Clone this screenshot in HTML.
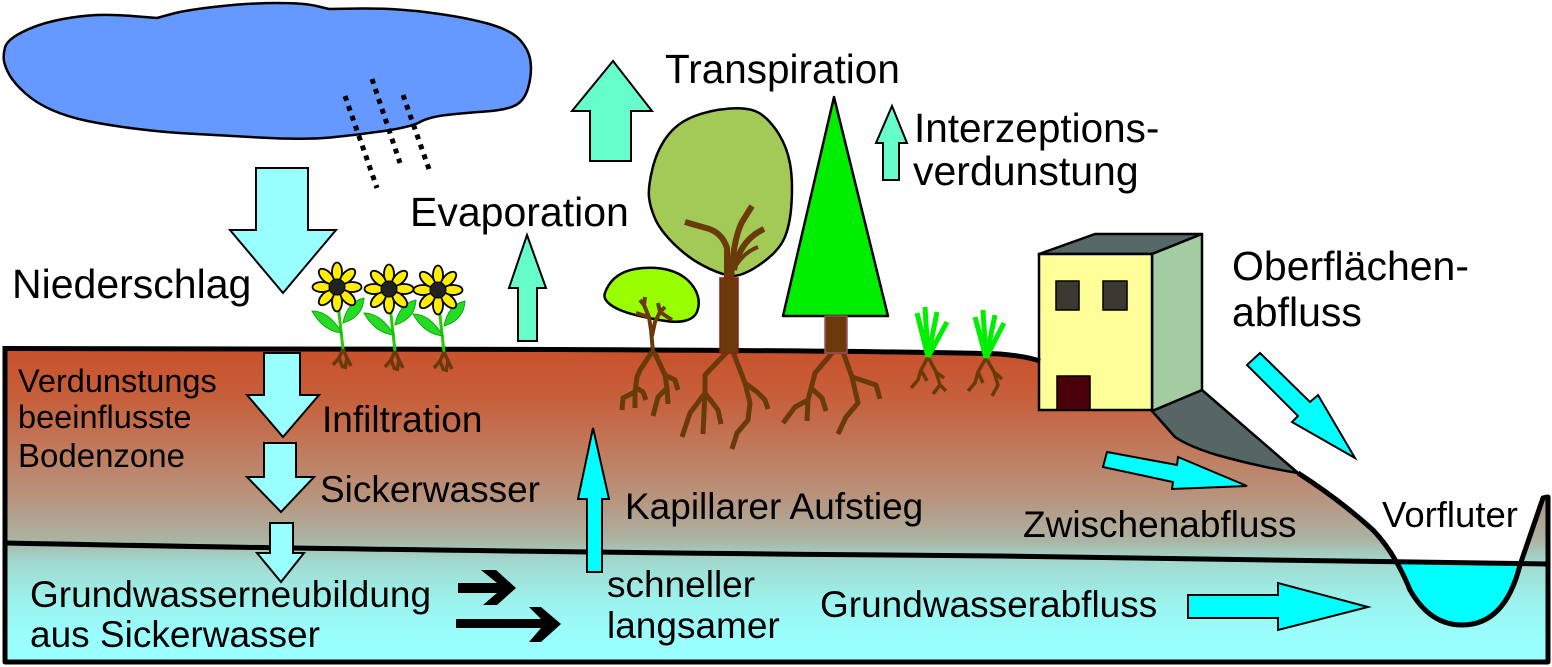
<!DOCTYPE html>
<html>
<head>
<meta charset="utf-8">
<style>
  html,body{margin:0;padding:0;background:#fff;}
  svg{display:block;}
  text{font-family:"Liberation Sans", Arial, sans-serif; fill:#000;}
</style>
</head>
<body>
<svg width="1552" height="667" viewBox="0 0 1552 667" xmlns="http://www.w3.org/2000/svg">
  <defs>
    <linearGradient id="soil" gradientUnits="userSpaceOnUse" x1="0" y1="350" x2="0" y2="662">
      <stop offset="0" stop-color="#c9512b"/>
      <stop offset="0.16" stop-color="#c6603c"/>
      <stop offset="0.32" stop-color="#c07a5c"/>
      <stop offset="0.48" stop-color="#b8957f"/>
      <stop offset="0.61" stop-color="#aab4a2"/>
      <stop offset="0.67" stop-color="#a2d6cc"/>
      <stop offset="0.80" stop-color="#9cf2ec"/>
      <stop offset="0.93" stop-color="#99ffff"/>
      <stop offset="1" stop-color="#99ffff"/>
    </linearGradient>
    <clipPath id="riverclip"><rect x="1350" y="562" width="200" height="100"/></clipPath>
    <g id="flower">
      <path d="M0,8 Q3,35 6,62" stroke="#22cc00" stroke-width="3" fill="none"/>
      <path d="M5,46 Q-8,24 -25,24 Q-14,44 5,46Z" fill="#22dd22" stroke="#18a018" stroke-width="1"/>
      <path d="M6,36 Q10,15 27,11 Q26,30 6,36Z" fill="#22dd22" stroke="#18a018" stroke-width="1"/>
      <g fill="#ffee00" stroke="#000" stroke-width="1.8">
        <ellipse cx="0" cy="-15" rx="5" ry="9.5"/>
        <ellipse cx="0" cy="-15" rx="5" ry="9.5" transform="rotate(45)"/>
        <ellipse cx="0" cy="-15" rx="5" ry="9.5" transform="rotate(90)"/>
        <ellipse cx="0" cy="-15" rx="5" ry="9.5" transform="rotate(135)"/>
        <ellipse cx="0" cy="-15" rx="5" ry="9.5" transform="rotate(180)"/>
        <ellipse cx="0" cy="-15" rx="5" ry="9.5" transform="rotate(225)"/>
        <ellipse cx="0" cy="-15" rx="5" ry="9.5" transform="rotate(270)"/>
        <ellipse cx="0" cy="-15" rx="5" ry="9.5" transform="rotate(315)"/>
      </g>
      <circle cx="0" cy="0" r="8" fill="#222" stroke="#000" stroke-width="1"/>
      <path d="M6,62 L2,71 L-4,78 M2,71 L6,81 M6,62 L10,71 L14,79 M10,71 L8,82" stroke="#6b3a0a" stroke-width="3.5" fill="none"/>
    </g>
  </defs>

  <!-- Cloud -->
  <path d="M4,61 Q3,55 5,47.5 Q7,40 21.5,32.5 Q36,25 53.5,21 Q71,17 89,15.5 Q107,14 132,16 L157,18 L171.5,14 Q186,10 218,6.5 Q250,3 277,3 Q304,3 316.5,6 L329,9 L361,8.5 Q393,8 428.5,12.5 Q464,17 487.5,23.5 Q511,30 520,40 Q529,50 530.5,61.5 Q532,73 528.5,86.5 Q525,100 516,105 Q507,110 485.5,111.5 Q464,113 446.5,115 Q429,117 420,122 Q411,127 384,131 Q357,135 330.5,137.5 Q304,140 259,137.5 Q214,135 187.5,133.5 Q161,132 134,128.5 Q107,125 87.5,121 Q68,117 52,110 Q36,103 25,93 Q14,83 9.5,75 Q5,67 4,61 Z" fill="#6699ff" stroke="#000" stroke-width="2.5"/>
  <!-- Rain -->
  <g stroke="#000" stroke-width="5" stroke-dasharray="5 5.5" fill="none">
    <line x1="345" y1="96" x2="377" y2="188"/>
    <line x1="372" y1="79" x2="400" y2="163"/>
    <line x1="403" y1="95" x2="430" y2="172"/>
  </g>

  <!-- Ground fill -->
  <path d="M5,348.5 L560,349.5 Q900,351 1000,354 Q1025,356 1040,361 L1202,361 L1202,390 L1298,473 Q1340,500 1373,530 Q1395,553 1410,590 Q1430,625 1462,625 Q1505,625 1520,565 L1543,498 L1548,497 L1548,662 L5,662 Z" fill="url(#soil)"/>
  <!-- River water -->
  <path clip-path="url(#riverclip)" d="M1373,530 Q1395,553 1410,590 Q1430,625 1462,625 Q1505,625 1520,565 L1543,498 Z" fill="#00ffff"/>

  <!-- Gray slope -->
  <path d="M1152,411 L1202,390 L1298,473 Q1260,467 1217,455 Q1190,447 1175,437 Z" fill="#556664" stroke="#000" stroke-width="2.5" stroke-linejoin="round"/>
  <!-- House -->
  <polygon points="1039,254 1095,234 1202,234 1152,254" fill="#566866" stroke="#000" stroke-width="2.5" stroke-linejoin="round"/>
  <polygon points="1152,254 1202,234 1202,390 1152,411" fill="#a3cca3" stroke="#000" stroke-width="2.5" stroke-linejoin="round"/>
  <rect x="1039" y="254" width="113" height="156" fill="#ffff99" stroke="#000" stroke-width="2.5"/>
  <rect x="1056" y="281" width="23" height="29" fill="#3a3830" stroke="#000" stroke-width="1.5"/>
  <rect x="1103" y="281" width="24" height="29" fill="#3a3830" stroke="#000" stroke-width="1.5"/>
  <rect x="1057" y="376" width="33" height="34" fill="#4a0008" stroke="#000" stroke-width="1.5"/>

  <!-- Groundwater line -->
  <path d="M5,543 Q400,551 1000,556 L1548,564" fill="none" stroke="#000" stroke-width="5"/>
  <!-- Ground outlines -->
  <path d="M5,348.5 L560,349.5 Q900,351 1000,354 Q1025,356 1040,361" fill="none" stroke="#000" stroke-width="5"/>
  <path d="M1298,473 Q1340,500 1373,530 Q1395,553 1410,590 Q1430,625 1462,625 Q1505,625 1520,565 L1543,498 L1548,497 L1548,662 L5,662 L5,346" fill="none" stroke="#000" stroke-width="5" stroke-linejoin="round"/>

  <!-- Roots -->
  <g stroke="#6b3a0a" stroke-width="5" fill="none" stroke-linejoin="round">
    <!-- shrub -->
    <path d="M652,352 L640,370 L637,377 L635,392 L623,398 L622,410 M635,387 L643,392 L646,400 M635,392 L635,408 M654,352 L657,358 L665,375 L667,388 L658,397 L653,416 M665,375 L675,380 L678,390 M667,388 L668,404"/>
    <!-- big tree -->
    <path d="M727,352 L705,375 L705,393 L690,413 L682,437 M705,393 L718,410 L721,424 M705,393 L703,434 M733,352 L745,383 L757,392 L765,400 L768,409 M745,383 L750,403 L748,420 L737,433 L732,449"/>
    <!-- conifer -->
    <path d="M833,352 L815,373 L808,400 L795,407 L783,423 M810,387 L822,398 L826,411 M808,400 L807,421 M843,352 L852,377 L876,385 L880,399 M852,377 L858,403 L846,417 L838,434"/>
  </g>
  <g stroke="#6b3a0a" stroke-width="3.5" fill="none" stroke-linejoin="round">
    <path d="M928,357 L921,370 L918,380 L911,388 M921,370 L927,381 M928,357 L936,372 L940,385 L933,394 M936,372 L944,378 M940,385 L946,391"/>
    <path d="M986,358 L978,372 L975,383 L968,391 M978,372 L983,383 M986,358 L994,372 L998,385 L992,396 M994,372 L1002,379"/>
  </g>

  <!-- Flowers -->
  <use href="#flower" x="337" y="287"/>
  <use href="#flower" x="389" y="289"/>
  <use href="#flower" x="438" y="290"/>

  <!-- Shrub -->
  <path d="M604.5,296.5 Q604,293 608.5,285.5 Q613,278 621.5,273.5 Q630,269 643.5,268 Q657,267 668.5,270 Q680,273 687.5,280 Q695,287 697.5,295 Q700,303 697.5,310.5 Q695,318 686,320.5 Q677,323 662.5,320.5 Q648,318 637.5,315.5 Q627,313 620,310 Q613,307 609,303.5 Q605,300 604.5,296.5 Z" fill="#99ff00" stroke="#000" stroke-width="2.5"/>
  <g stroke="#6b3a0a" stroke-width="4" fill="none" stroke-linejoin="round">
    <path d="M653,352 L651,330 L649,317 L644,305 L640,300 M649,317 L636,313 M644,305 L645,297 M652,336 L655,322 L660,312 L665,307 M660,312 L672,320 M660,312 L658,303"/>
  </g>

  <!-- Big tree -->
  <path d="M649,197 Q648,187 652.5,168.5 Q657,150 667,136.5 Q677,123 693.5,116.5 Q710,110 730,108.5 Q750,107 760,113.5 Q770,120 778.5,133.5 Q787,147 790,163.5 Q793,180 791.5,203.5 Q790,227 783.5,240 Q777,253 758.5,265.5 Q740,278 728.5,275.5 Q717,273 702,265 Q687,257 673.5,243.5 Q660,230 655,218.5 Q650,207 649,197 Z" fill="#a3c957" stroke="#000" stroke-width="2.5"/>
  <g stroke="#6b3a0a" stroke-width="6" fill="none" stroke-linecap="butt" stroke-linejoin="round">
    <path d="M727,282 L727,248 Q722,232 706,228 L685,222"/>
    <path d="M731,280 Q733,240 742,222 L752,206"/>
    <path d="M734,270 Q740,240 764,229"/>
    <path d="M737,264 Q745,252 758,247" stroke-width="4"/>
  </g>
  <rect x="720" y="278" width="18" height="75" fill="#6b3a0a" stroke="#8b2010" stroke-width="1.5"/>

  <!-- Conifer -->
  <polygon points="834,97 783,316 888,316" fill="#00ee00" stroke="#000" stroke-width="2.5" stroke-linejoin="round"/>
  <rect x="825" y="316" width="22" height="37" fill="#6b3a0a" stroke="#a05060" stroke-width="1.5"/>

  <!-- Grass -->
  <g stroke="#00ee00" stroke-width="5" fill="none" stroke-linecap="butt">
    <path d="M928,357 L917,313 M928,357 L925,307 M928,357 L937,312 M928,357 L947,322"/>
    <path d="M986,358 L975,317 M986,358 L983,310 M986,358 L995,315 M986,358 L1004,323"/>
  </g>

  <!-- Arrows -->
  <g stroke="#000" stroke-width="2" stroke-linejoin="miter">
    <polygon points="256,168 308,168 308,230 336,230 283,293 230,230 256,230" fill="#99ffff"/>
    <polygon points="527,235 546,288 537,288 537,341 518,341 518,288 509,288" fill="#66ffcc"/>
    <polygon points="613,61 652,111 631,111 631,161 590,161 590,111 572,111" fill="#66ffcc"/>
    <polygon points="892,106 907,143 899,143 899,180 883,180 883,143 876,143" fill="#66ffcc"/>
    <polygon points="264,353 300,353 300,395 319,395 283,437 247,395 264,395" fill="#99ffff"/>
    <polygon points="264,443 296,443 296,477 314,477 281,512 247,477 264,477" fill="#99ffff"/>
    <polygon points="270,523 293,523 293,553 304,553 281,582 257,553 270,553" fill="#99ffff"/>
    <polygon points="593,428 609,499 602,499 602,572 587,572 587,499 578,499" fill="#00ffff"/>
    <polygon points="1107,452 1177,465 1178,457 1247,486 1172,489 1173,482 1103,467" fill="#00ffff"/>
    <polygon points="1247,365 1260,353 1310,402 1318,395 1355,458 1292,422 1298,416" fill="#00ffff"/>
    <polygon points="1188,595 1278,595 1278,583 1368,607 1278,630 1278,618 1188,618" fill="#00ffff"/>
  </g>
  <!-- Black flow arrows -->
  <polygon points="458,583 497,583 481,570 496,570 516,588 497,605 483,605 497,593 458,593" fill="#000"/>
  <polygon points="456,619 541,619 529,607 541,607 561,624 541,642 529,642 541,628 456,628" fill="#000"/>

  <!-- Labels -->
  <text x="665" y="83" font-size="40.5">Transpiration</text>
  <text x="914" y="142" font-size="40.5">Interzeptions-</text>
  <text x="913" y="185" font-size="41">verdunstung</text>
  <text x="410" y="226" font-size="41">Evaporation</text>
  <text x="12" y="298" font-size="41">Niederschlag</text>
  <text x="1232" y="280" font-size="41">Oberflächen-</text>
  <text x="1232" y="326" font-size="41">abfluss</text>
  <text x="18" y="392" font-size="32.5">Verdunstungs</text>
  <text x="18" y="428" font-size="32.5">beeinflusste</text>
  <text x="18" y="467" font-size="33">Bodenzone</text>
  <text x="322" y="432" font-size="37">Infiltration</text>
  <text x="320" y="502" font-size="37">Sickerwasser</text>
  <text x="30" y="607" font-size="37">Grundwasserneubildung</text>
  <text x="30" y="647" font-size="37">aus Sickerwasser</text>
  <text x="625" y="519" font-size="37">Kapillarer Aufstieg</text>
  <text x="607" y="597" font-size="37">schneller</text>
  <text x="607" y="638" font-size="37">langsamer</text>
  <text x="820" y="617" font-size="37">Grundwasserabfluss</text>
  <text x="1023" y="537" font-size="37">Zwischenabfluss</text>
  <text x="1382" y="527" font-size="36.5">Vorfluter</text>
</svg>
</body>
</html>
